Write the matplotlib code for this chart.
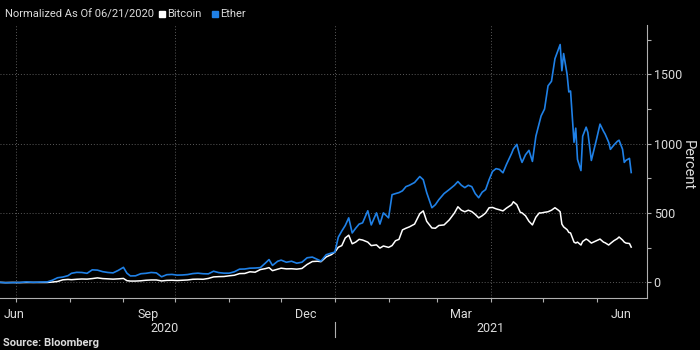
import matplotlib
matplotlib.use("Agg")
import matplotlib.pyplot as plt
import matplotlib.dates as mdates
import matplotlib.transforms as mtransforms
import pandas as pd

plt.rcParams['font.family'] = ['Roboto', 'DejaVu Sans']

dates = [
    "2020-06-21", "2020-06-25", "2020-06-29", "2020-07-03", "2020-07-07", "2020-07-11",
    "2020-07-15", "2020-07-19", "2020-07-22", "2020-07-25", "2020-07-28", "2020-07-31",
    "2020-08-02", "2020-08-05", "2020-08-08", "2020-08-11", "2020-08-14", "2020-08-17",
    "2020-08-20", "2020-08-23", "2020-08-26", "2020-08-29", "2020-09-01", "2020-09-03",
    "2020-09-05", "2020-09-08", "2020-09-11", "2020-09-14", "2020-09-17", "2020-09-20",
    "2020-09-23", "2020-09-26", "2020-09-29", "2020-10-02", "2020-10-05", "2020-10-08",
    "2020-10-11", "2020-10-14", "2020-10-17", "2020-10-20", "2020-10-23", "2020-10-26",
    "2020-10-29", "2020-11-01", "2020-11-04", "2020-11-07", "2020-11-10", "2020-11-13",
    "2020-11-16", "2020-11-19", "2020-11-22", "2020-11-24", "2020-11-26", "2020-11-29",
    "2020-12-01", "2020-12-04", "2020-12-07", "2020-12-10", "2020-12-13", "2020-12-16",
    "2020-12-19", "2020-12-22", "2020-12-24", "2020-12-27", "2020-12-30", "2021-01-01",
    "2021-01-03", "2021-01-05", "2021-01-07", "2021-01-09", "2021-01-11", "2021-01-13",
    "2021-01-15", "2021-01-17", "2021-01-20", "2021-01-22", "2021-01-25", "2021-01-27",
    "2021-01-29", "2021-02-01", "2021-02-03", "2021-02-05", "2021-02-07", "2021-02-09",
    "2021-02-11", "2021-02-13", "2021-02-16", "2021-02-19", "2021-02-21", "2021-02-23",
    "2021-02-26", "2021-02-28", "2021-03-02", "2021-03-05", "2021-03-08", "2021-03-11",
    "2021-03-13", "2021-03-15", "2021-03-17", "2021-03-19", "2021-03-21", "2021-03-23",
    "2021-03-25", "2021-03-27", "2021-03-29", "2021-03-31", "2021-04-02", "2021-04-04",
    "2021-04-06", "2021-04-08", "2021-04-10", "2021-04-13", "2021-04-14", "2021-04-16",
    "2021-04-18", "2021-04-19", "2021-04-21", "2021-04-23", "2021-04-25", "2021-04-27",
    "2021-04-29", "2021-04-30", "2021-05-02", "2021-05-04", "2021-05-06", "2021-05-08",
    "2021-05-10", "2021-05-11", "2021-05-12", "2021-05-13", "2021-05-15", "2021-05-16",
    "2021-05-17", "2021-05-19", "2021-05-20", "2021-05-21", "2021-05-23", "2021-05-24",
    "2021-05-26", "2021-05-27", "2021-05-29", "2021-06-01", "2021-06-03", "2021-06-05",
    "2021-06-06", "2021-06-08", "2021-06-09", "2021-06-11", "2021-06-13", "2021-06-14",
    "2021-06-16", "2021-06-17", "2021-06-18", "2021-06-20", "2021-06-21",
]

bitcoin = [
    0, -2, -1, -2, -1, -1,
    -1, -1, 2, 6, 18, 21,
    19, 22, 24, 23, 27, 32,
    27, 25, 23, 25, 28, 12,
    9, 9, 11, 15, 17, 17,
    10, 14, 15, 13, 15, 17,
    22, 23, 22, 28, 39, 41,
    42, 47, 51, 63, 64, 76,
    73, 92, 99, 106, 84, 95,
    102, 97, 98, 95, 100, 129,
    150, 152, 149, 183, 200, 218,
    253, 265, 320, 340, 278, 290,
    310, 305, 290, 265, 270, 247,
    262, 252, 265, 300, 310, 378,
    390, 400, 420, 495, 515, 440,
    392, 390, 410, 414, 450, 500,
    545, 520, 509, 520, 510, 490,
    465, 480, 500, 538, 540, 530,
    523, 515, 535, 560, 581, 560,
    505, 501, 480, 440, 414, 470,
    501, 500, 505, 509, 520, 538,
    520, 509, 420, 400, 380, 360,
    356, 290, 283, 290, 269, 295,
    312, 305, 283, 300, 312, 290,
    285, 269, 280, 300, 315, 327,
    305, 290, 283, 280, 254,
]

ether = [
    0, -3, -2, -1, 3, 0,
    2, 3, 15, 33, 38, 48,
    65, 72, 71, 65, 90, 88,
    77, 71, 68, 86, 108, 66,
    46, 47, 62, 65, 71, 68,
    40, 55, 57, 52, 53, 56,
    63, 66, 62, 61, 80, 70,
    66, 66, 76, 95, 96, 102,
    103, 106, 140, 164, 122, 152,
    160, 145, 152, 138, 145, 177,
    182, 165, 153, 199, 211, 218,
    326, 370, 410, 465, 356, 390,
    420, 429, 516, 414, 501, 420,
    501, 465, 632, 640, 647, 660,
    690, 700, 720, 763, 740, 647,
    538, 560, 596, 640, 669, 700,
    727, 700, 683, 700, 690, 640,
    610, 650, 669, 740, 800, 820,
    814, 790, 850, 930, 961, 995,
    900, 865, 920, 952, 872, 1054,
    1150, 1200, 1250, 1417, 1450, 1613,
    1680, 1715, 1526, 1650, 1500, 1373,
    1380, 1010, 1112, 887, 806, 1054,
    1119, 1080, 879, 1032, 1141, 1090,
    1068, 1010, 959, 990, 1017, 1025,
    960, 865, 880, 894, 792,
]

series_names = ["Bitcoin", "Ether"]
month_labels = ["Jun", "Sep", "Dec", "Mar", "Jun"]
month_label_dates = ["2020-06-30", "2020-09-15", "2020-12-15", "2021-03-15", "2021-06-15"]
year_labels = ["2020", "2021"]
year_label_dates = ["2020-09-25", "2021-04-01"]
y_major = [0, 500, 1000, 1500]
y_minor = [250, 750, 1250, 1750]

BG = "black"
BLUE = "#1f80e6"
WHITE = "#ffffff"
GRID = "#5a5a5a"
AXC = "#b0b0b0"
TXT = "#dcdcdc"

x = mdates.date2num(pd.to_datetime(dates))

fig = plt.figure(figsize=(7, 3.5), dpi=100, facecolor=BG)
ax = fig.add_axes([0.0, 0.149, 0.924, 0.78], facecolor=BG)

ax.plot(x, bitcoin, color=WHITE, lw=1.1, zorder=3)
ax.plot(x, ether, color=BLUE, lw=1.2, zorder=4)

x0 = mdates.date2num(pd.Timestamp("2020-06-21")) + 0.77
x1 = mdates.date2num(pd.Timestamp("2021-06-30"))
ax.set_xlim(x0, x1)
ax.set_ylim(-112, 1857)

for s in ["top", "left"]:
    ax.spines[s].set_visible(False)
for s in ["bottom", "right"]:
    ax.spines[s].set_color(AXC)
    ax.spines[s].set_linewidth(0.8)

# y axis on right
ax.yaxis.tick_right()
ax.set_yticks(y_major)
ax.set_yticks(y_minor, minor=True)
ax.set_yticklabels([str(v) for v in y_major])
ax.tick_params(axis="y", which="both", colors=AXC, length=3, width=0.8,
               labelcolor=TXT, labelsize=9, pad=2)
for v in y_major:
    ax.axhline(v, color=GRID, lw=0.7, ls=(0, (1, 2)), zorder=1)

# x axis: monthly ticks
months = pd.date_range("2020-07-01", "2021-06-01", freq="MS")
ax.set_xticks(mdates.date2num(months))
ax.set_xticklabels([])
ax.tick_params(axis="x", which="both", colors=AXC, length=3, width=0.8)
for d in ["2020-07-01", "2020-10-01", "2021-01-01", "2021-04-01"]:
    ax.axvline(mdates.date2num(pd.Timestamp(d)), color=GRID, lw=0.7,
               ls=(0, (1, 2)), zorder=1)

trans = mtransforms.blended_transform_factory(ax.transData, ax.transAxes)
for lab, d in zip(month_labels, month_label_dates):
    ax.text(mdates.date2num(pd.Timestamp(d)), -0.062, lab, transform=trans,
            ha="center", va="center", color=TXT, fontsize=9)
for lab, d in zip(year_labels, year_label_dates):
    ax.text(mdates.date2num(pd.Timestamp(d)), -0.114, lab, transform=trans,
            ha="center", va="center", color=TXT, fontsize=9)
jan = mdates.date2num(pd.Timestamp("2021-01-01"))
ax.plot([jan, jan], [-0.088, -0.143], transform=trans, color=AXC, lw=0.8,
        clip_on=False)

# Percent label
fig.text(688 / 700, 1 - 165 / 350, "Percent", rotation=270, ha="center",
         va="center", color=TXT, fontsize=10.5)

# legend header
fig.text(5 / 700, 1 - 14 / 350, "Normalized As Of 06/21/2020", ha="left",
         va="center", color=TXT, fontsize=8)
fig.patches.append(plt.Rectangle((159 / 700, 1 - 17 / 350), 6 / 700, 6 / 350,
                                 transform=fig.transFigure, color=WHITE))
fig.text(167 / 700, 1 - 14 / 350, series_names[0], ha="left", va="center",
         color=TXT, fontsize=8)
fig.patches.append(plt.Rectangle((212 / 700, 1 - 17 / 350), 6 / 700, 6 / 350,
                                 transform=fig.transFigure, color=BLUE))
fig.text(220 / 700, 1 - 14 / 350, series_names[1], ha="left", va="center",
         color=TXT, fontsize=8)

# source
fig.text(3 / 700, 1 - 343 / 350, "Source: Bloomberg", ha="left", va="center",
         color=TXT, fontsize=8, fontweight="bold")

fig.savefig("out.png", dpi=100, facecolor=BG)
